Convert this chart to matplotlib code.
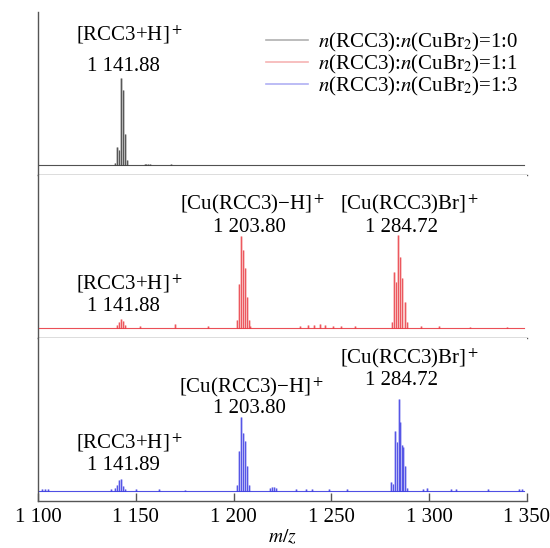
import matplotlib
matplotlib.use("Agg")
import matplotlib.pyplot as plt
from matplotlib.ticker import FuncFormatter, MultipleLocator

plt.rcParams["font.family"] = ["Liberation Serif", "DejaVu Serif"]
plt.rcParams["mathtext.fontset"] = "stix"

# m/z range of the scan and of the drawn baseline
X_MIN, X_MAX = 1100, 1350
BASE_START, BASE_END = 1100.5, 1348.5

# peak lists (m/z, relative intensity), one per ratio
mz_10 = [1139.6, 1140.5, 1141.6, 1142.6, 1143.4, 1144.3, 1145.3,
         1154.5, 1155.5, 1156.5, 1157.5, 1168.0]
int_10 = [2, 18, 15, 87, 75, 31, 5,
          1.5, 1.5, 1.5, 1.5, 1]

mz_11 = [1140.6, 1141.6, 1142.6, 1143.5, 1144.4, 1152.0, 1170.0, 1187.0,
         1201.9, 1202.9, 1203.9, 1204.9, 1205.8, 1206.7, 1207.7, 1208.6,
         1234.0, 1238.0, 1241.0, 1244.0, 1247.0, 1251.0, 1255.0, 1262.0,
         1281.2, 1282.1, 1283.3, 1284.2, 1285.2, 1286.2, 1287.8, 1288.7,
         1296.0, 1305.0, 1321.0, 1340.0]
int_11 = [3, 6, 9, 7, 3, 2, 4, 2,
          8, 44, 92, 78, 60, 31, 8, 2,
          2, 3, 3, 4, 3, 2, 2, 2,
          6, 56, 46, 93, 71, 50, 26, 6,
          2, 2, 1.5, 1.5]

mz_13 = [1102.0, 1103.5, 1105.0, 1137.5, 1139.5, 1140.5, 1141.6, 1142.6,
         1143.5, 1144.5, 1150.0, 1162.0, 1175.0,
         1201.8, 1202.8, 1203.9, 1204.9, 1205.8, 1206.8, 1207.7,
         1218.5, 1219.5, 1220.5, 1221.5, 1232.0, 1237.0, 1240.0, 1249.0,
         1258.0, 1280.5, 1281.5, 1282.5, 1283.4, 1284.4, 1285.2, 1286.1,
         1286.6, 1287.8, 1288.7, 1297.0, 1299.0, 1311.0, 1314.0, 1330.0,
         1346.0, 1347.5]
int_13 = [2, 2, 1.5, 2, 3, 6, 11, 12,
          5, 2, 1.5, 1.5, 1,
          6, 40, 74, 58, 50, 25, 6,
          3, 4, 4, 3, 1.5, 2, 1.5, 1.5,
          1.5, 9, 7, 60, 49, 92, 69, 46,
          44, 25, 3, 2, 2.5, 1.5, 1.5, 1.5,
          2, 2]

series_labels = [r"$\it{n}$(RCC3):$\it{n}$(CuBr$_2$)=1:0",
                 r"$\it{n}$(RCC3):$\it{n}$(CuBr$_2$)=1:1",
                 r"$\it{n}$(RCC3):$\it{n}$(CuBr$_2$)=1:3"]
colors = ["#333333", "#e8303a", "#3030e0"]
light = ["#b0b0b0", "#f6b4b4", "#b0b0f4"]

# peak annotations: (panel, text, x, y)
annotations = [
    (0, r"[RCC3+H]$^+$", 1147.0, 130), (0, "1 141.88", 1143.5, 99),
    (1, r"[RCC3+H]$^+$", 1147.0, 44), (1, "1 141.88", 1143.5, 22),
    (1, r"[Cu(RCC3)−H]$^+$", 1209.6, 124), (1, "1 203.80", 1207.9, 101),
    (1, r"[Cu(RCC3)Br]$^+$", 1290.2, 124), (1, "1 284.72", 1286.0, 101),
    (2, r"[RCC3+H]$^+$", 1147.0, 48), (2, "1 141.89", 1143.5, 25),
    (2, r"[Cu(RCC3)−H]$^+$", 1209.4, 104), (2, "1 203.80", 1208.0, 82),
    (2, r"[Cu(RCC3)Br]$^+$", 1290.2, 133), (2, "1 284.72", 1286.0, 110),
]

fig, axes = plt.subplots(3, 1, figsize=(5.5, 5.48), dpi=100, sharex=True)
fig.subplots_adjust(left=0.069, right=0.958, bottom=0.0858, top=0.978, hspace=0)

spectra = [(mz_10, int_10), (mz_11, int_11), (mz_13, int_13)]
handles = []
for i, (ax, (mz, inten)) in enumerate(zip(axes, spectra)):
    ax.vlines(mz, 0, inten, color=light[i], lw=1.8, zorder=2)
    ax.vlines(mz, 0, inten, color=colors[i], lw=0.5, zorder=3)
    ax.plot([BASE_START, BASE_END], [0, 0], color=colors[i], lw=0.8,
            alpha=0.85, zorder=3)
    handles.append(ax.plot([], [], color=light[i], lw=1.2)[0])
    ax.set_xlim(X_MIN, X_MAX)
    ax.set_ylim(-10, 153)
    ax.set_yticks([])
    for s in ("top", "right"):
        ax.spines[s].set_visible(False)
    for s in ("left", "bottom"):
        ax.spines[s].set_color("#555555")
        ax.spines[s].set_linewidth(1.0)
    ax.tick_params(axis="x", which="both", bottom=False, labelbottom=False)

for panel, txt, x, y in annotations:
    axes[panel].text(x, y, txt, ha="center", va="center", fontsize=15)

axes[0].legend(handles, series_labels, loc="upper right",
               bbox_to_anchor=(1.0, 0.935), frameon=False, fontsize=15,
               handlelength=2.0, handletextpad=0.5, labelspacing=-0.06,
               borderaxespad=0.0)

ax = axes[-1]
ax.xaxis.set_major_locator(MultipleLocator(50))
ax.xaxis.set_major_formatter(FuncFormatter(
    lambda v, p: f"{int(v):,}".replace(",", " ")))
ax.tick_params(axis="x", bottom=True, labelbottom=True, direction="in",
               length=6, width=1.0, color="#555555", labelsize=15, pad=5)
ax.set_xlabel(r"$\it{m/z}$", fontsize=14, labelpad=1)

fig.savefig("out.png", dpi=100)
